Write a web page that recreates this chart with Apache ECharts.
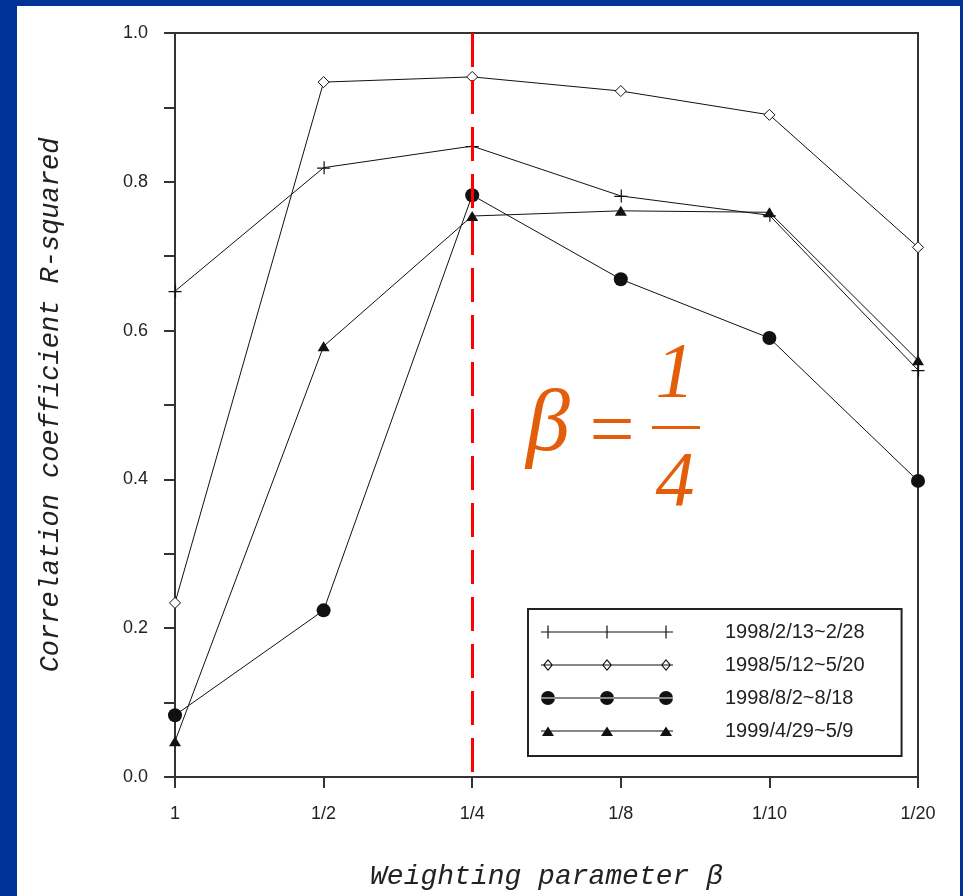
<!DOCTYPE html>
<html>
<head>
  <meta charset="UTF-8" />
  <title>Correlation coefficient vs weighting parameter</title>
  <script src="https://cdn.jsdelivr.net/npm/echarts@6/dist/echarts.min.js"></script>
  <style>
    body {
      margin: 0;
      background: #003399;
      width: 963px;
      height: 896px;
      overflow: hidden;
    }
    #main {
      position: absolute;
      left: 17px;
      top: 6px;
      width: 943px;
      height: 890px;
      background: #fff;
    }
  </style>
</head>
<body>
  <div id="main"></div>
  <script>
    // values
    const betas = ['1', '1/2', '1/4', '1/8', '1/10', '1/20'];
    const seriesNames = ['1998/2/13~2/28', '1998/5/12~5/20', '1998/8/2~8/18', '1999/4/29~5/9'];
    const feb98 = [0.653, 0.819, 0.848, 0.781, 0.755, 0.547];
    const may98 = [0.234, 0.934, 0.941, 0.922, 0.890, 0.712];
    const aug98 = [0.083, 0.224, 0.782, 0.669, 0.590, 0.398];
    const apr99 = [0.048, 0.579, 0.754, 0.761, 0.759, 0.560];
    const chosenBeta = '1/4';

    const ink = '#111';
    const orange = '#e35d0b';
    const plusPath = 'path://M0 6.4H13V7.6H0Z M6.4 0H7.6V13H6.4Z';

    // legend icons: line with three markers, box 132 x 14
    const pad = 'M0 0h0.01v0.01h-0.01Z M131.99 13.99h0.01v0.01h-0.01Z ';
    const lineBar = 'M0 6.5H132V7.5H0Z ';
    const xs = [7, 66, 125];
    const plusIcon = 'path://' + pad + lineBar +
      xs.map(c => `M${c - 0.6} 0.5H${c + 0.6}V13.5H${c - 0.6}Z`).join(' ');
    const diamondIcon = 'path://' + pad + lineBar +
      xs.map(c => `M${c} 1L${c + 5} 7L${c} 13L${c - 5} 7Z M${c} 2.8L${c - 3.6} 7L${c} 11.2L${c + 3.6} 7Z`).join(' ');
    const circleIcon = 'path://' + pad + lineBar +
      xs.map(c => `M${c - 7} 7A7 7 0 1 0 ${c + 7} 7A7 7 0 1 0 ${c - 7} 7Z`).join(' ');
    const triangleIcon = 'path://' + pad + lineBar +
      xs.map(c => `M${c} 2.5L${c + 6} 12L${c - 6} 12Z`).join(' ');

    const chart = echarts.init(document.getElementById('main'));

    const tickFont = { color: '#222', fontSize: 18, fontFamily: 'Liberation Sans, Arial, sans-serif' };
    const nameFont = {
      color: '#222', fontSize: 28, fontStyle: 'italic',
      fontFamily: 'Liberation Mono, Courier New, monospace'
    };

    function lineSeries(name, data, symbol, size, itemStyle) {
      return {
        name: name,
        type: 'line',
        data: data,
        symbol: symbol,
        symbolSize: size,
        showAllSymbol: true,
        lineStyle: { color: ink, width: 1 },
        itemStyle: itemStyle,
        emphasis: { disabled: true },
        z: 3
      };
    }

    const s1 = lineSeries(seriesNames[0], feb98, plusPath, 13, { color: ink });
    s1.markLine = {
      silent: true,
      symbol: ['none', 'none'],
      label: { show: false },
      lineStyle: { color: '#ff0000', width: 3, type: [34, 13], dashOffset: 42 },
      data: [{ xAxis: chosenBeta }],
      z: 5
    };

    chart.setOption({
      animation: false,
      backgroundColor: '#fff',
      grid: {
        left: 158, right: 42, top: 27, bottom: 119,
        containLabel: false,
        outerBoundsMode: 'none',
        show: true, borderColor: '#333', borderWidth: 2
      },
      xAxis: {
        type: 'category',
        data: betas,
        boundaryGap: false,
        name: 'Weighting parameter β',
        nameLocation: 'middle',
        nameGap: 86,
        nameTextStyle: nameFont,
        axisLine: { lineStyle: { color: '#333', width: 2 } },
        axisTick: { show: true, length: 11, lineStyle: { color: '#333', width: 2 } },
        axisLabel: Object.assign({ margin: 28 }, tickFont),
        splitLine: { show: false }
      },
      yAxis: {
        type: 'value',
        min: 0,
        max: 1,
        interval: 0.1,
        name: 'Correlation coefficient R-squared',
        nameLocation: 'middle',
        nameGap: 111,
        nameTextStyle: Object.assign({}, nameFont, { fontSize: 27 }),
        axisLine: { show: true, lineStyle: { color: '#333', width: 2 } },
        axisTick: { show: true, length: 11, lineStyle: { color: '#333', width: 2 } },
        axisLabel: Object.assign({
          margin: 27,
          formatter: v => (Math.round(v * 10) % 2 === 0 ? v.toFixed(1) : '')
        }, tickFont),
        splitLine: { show: false }
      },
      legend: {
        orient: 'vertical',
        left: 511,
        top: 603,
        itemWidth: 132,
        itemHeight: 14,
        itemGap: 13,
        padding: [13, 37, 15, 13],
        backgroundColor: '#fff',
        borderColor: '#222',
        borderWidth: 2,
        borderRadius: 0,
        selectedMode: false,
        itemStyle: { color: ink, borderWidth: 0 },
        textStyle: {
          color: '#222', fontSize: 20, lineHeight: 20,
          fontFamily: 'Liberation Sans, Arial, sans-serif',
          padding: [0, 0, 0, 47]
        },
        data: [
          { name: seriesNames[0], icon: plusIcon },
          { name: seriesNames[1], icon: diamondIcon },
          { name: seriesNames[2], icon: circleIcon },
          { name: seriesNames[3], icon: triangleIcon }
        ]
      },
      graphic: [
        {
          type: 'text', x: 531, y: 421, z: 10,
          style: {
            text: 'β', fill: orange, align: 'center', verticalAlign: 'middle',
            font: 'italic 88px "Liberation Serif", "Times New Roman", serif'
          }
        },
        {
          type: 'text', x: 595, y: 429, z: 10,
          style: {
            text: '=', fill: orange, align: 'center', verticalAlign: 'middle',
            font: '80px "Liberation Serif", "Times New Roman", serif'
          }
        },
        {
          type: 'text', x: 658, y: 369, z: 10,
          style: {
            text: '1', fill: orange, align: 'center', verticalAlign: 'middle',
            font: 'italic 78px "Liberation Serif", "Times New Roman", serif'
          }
        },
        {
          type: 'rect', z: 10,
          shape: { x: 635, y: 420, width: 48, height: 3 },
          style: { fill: orange }
        },
        {
          type: 'text', x: 658, y: 478, z: 10,
          style: {
            text: '4', fill: orange, align: 'center', verticalAlign: 'middle',
            font: 'italic 78px "Liberation Serif", "Times New Roman", serif'
          }
        }
      ],
      series: [
        s1,
        lineSeries(seriesNames[1], may98, 'diamond', [11, 11],
          { color: '#fff', borderColor: ink, borderWidth: 1 }),
        lineSeries(seriesNames[2], aug98, 'circle', 14, { color: ink }),
        lineSeries(seriesNames[3], apr99, 'triangle', [12, 10], { color: ink })
      ]
    });
  </script>
</body>
</html>
